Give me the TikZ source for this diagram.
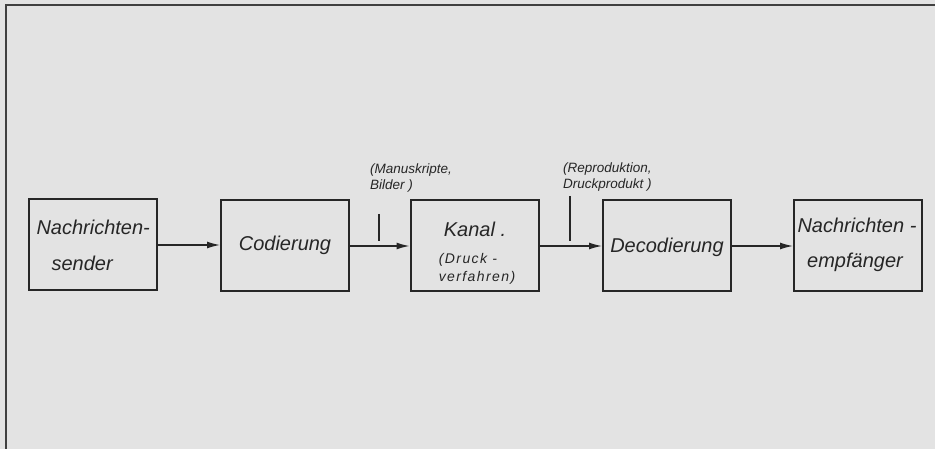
\documentclass[tikz,border=0pt]{standalone}
\usepackage{fontspec}
\setmainfont{Liberation Sans}
\newfontfamily\spacedfont[LetterSpace=10]{Liberation Sans}
\usetikzlibrary{arrows.meta}
\begin{document}
\begin{tikzpicture}[x=1pt,y=-1pt,
  blk/.style={draw=black!85,line width=2pt,minimum width=128pt,minimum height=91pt,inner sep=0pt},
  txt/.style={font=\fontsize{20}{22}\selectfont\itshape,text=black!85},
  kt/.style={font=\spacedfont\fontsize{14}{16}\selectfont\itshape,text=black!85},
  sm/.style={font=\fontsize{13.5}{16}\selectfont\itshape,text=black!85,align=left,anchor=south west,inner sep=0pt},
  conn/.style={draw=black!85,line width=1.4pt,-{Latex[length=13pt,width=7pt]}},
  tick/.style={draw=black!85,line width=1.3pt}]
\fill[black!11] (0,0) rectangle (935,449);
\useasboundingbox (0,0) rectangle (935,449);
\draw[black!75,line width=1.8pt] (6,449) -- (6,5) -- (935,5);
\node[blk] (b1) at (93,244.5) {};
\node[blk] (b2) at (285,245.5) {};
\node[blk] (b3) at (474.5,246) {};
\node[blk] (b4) at (667,246) {};
\node[blk] (b5) at (858,246) {};
\node[txt,anchor=west] at (33,227) {Nachrichten-};
\node[txt,anchor=west] at (48,263) {sender};
\node[txt] at (475,229) {Kanal .};
\node[txt] at (285,245) {Codierung};
\node[kt] at (468,260) {(Druck -};
\node[kt] at (477,278) {verfahren)};
\node[txt] at (667,247) {Decodierung};
\node[txt] at (857,225) {Nachrichten -};
\node[txt] at (855,262) {empfänger};
\node[sm] (l1) at (370,192) {(Manuskripte,\\Bilder )};
\node[sm] (l2) at (563,192) {(Reproduktion,\\Druckprodukt )};
\coordinate (t1a) at (379,214);
\coordinate (t1b) at (379,241);
\coordinate (t2a) at (570,196);
\coordinate (t2b) at (570,241);
\draw[tick] (t1a) -- (t1b);
\draw[tick] (t2a) -- (t2b);
\draw[conn] (b1.east |- 0,245) -- (b2.west |- 0,245);
\draw[conn] (b2.east |- 0,246) -- (b3.west |- 0,246);
\draw[conn] (b3.east |- 0,246) -- (b4.west |- 0,246);
\draw[conn] (b4.east |- 0,246) -- (b5.west |- 0,246);
\end{tikzpicture}
\end{document}
